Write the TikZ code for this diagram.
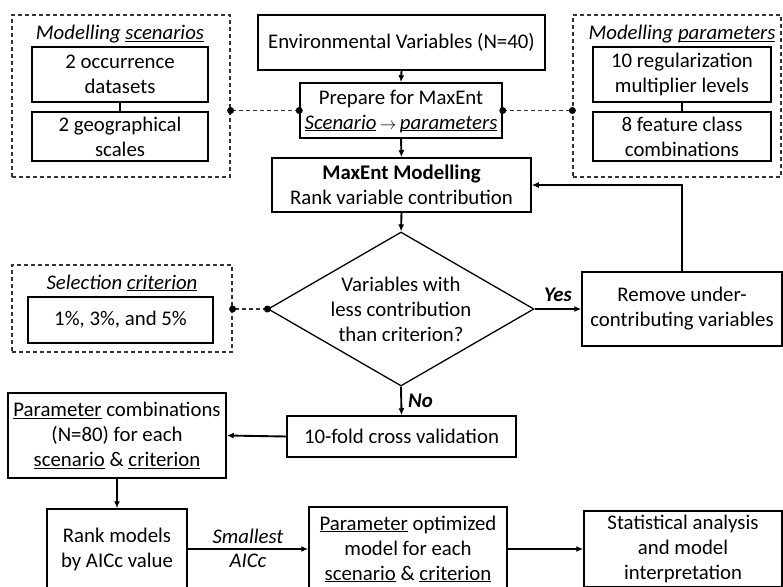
\documentclass[tikz,border=0pt]{standalone}
\usepackage{fontspec}
\setmainfont{Carlito}
\newcommand\myul[1]{\underline{\smash{#1}\vphantom{\ }}}
\usetikzlibrary{shapes.geometric,arrows.meta}
\begin{document}
\begin{tikzpicture}[x=1pt,y=-1pt,
  txt/.style={font=\fontsize{20.8}{25}\selectfont, align=center, inner sep=0pt},
  box/.style={txt, draw, line width=1.5pt},
  grp/.style={draw=black!80, dash pattern=on 4pt off 3pt, line width=1.2pt, inner sep=0pt},
  arr/.style={-{Latex[length=7pt,width=6pt]}, line width=1.9pt},
  dcon/.style={draw=black!80, dash pattern=on 4pt off 3pt, line width=1.2pt},
  solidcon/.style={line width=2pt}]
\useasboundingbox (0,0) rectangle (783,586);

% group boxes
\node[grp, minimum width=218pt, minimum height=162pt] (scen) at (121,96) {};
\node[txt] (scent) at (120,34) {\textit{Modelling \myul{scenarios}}};
\node[box, minimum width=176pt, minimum height=55pt] (occ) at (120,74.5) {2 occurrence\\datasets};
\node[box, minimum width=176pt, minimum height=49pt] (geo) at (120,136.5) {2 geographical\\scales};

\node[grp, minimum width=208pt, minimum height=162pt] (par) at (677,96) {};
\node[txt] (part) at (682,34) {\textit{Modelling \myul{parameters}}};
\node[box, minimum width=178pt, minimum height=55pt] (reg) at (682,74.5) {10 regularization\\multiplier levels};
\node[box, minimum width=178pt, minimum height=49pt] (feat) at (682,136.5) {8 feature class\\combinations};

\node[grp, minimum width=220pt, minimum height=87pt] (sel) at (122,308.5) {};
\node[txt] (selt) at (122,283) {\textit{Selection \myul{criterion}}};
\node[box, minimum width=185pt, minimum height=46pt] (pct) at (120.5,320) {1\%, 3\%, and 5\%};

% main flow
\node[box, minimum width=287pt, minimum height=55pt] (env) at (401.5,42.5) {Environmental Variables (N=40)};
\node[box, minimum width=202pt, minimum height=55pt] (prep) at (401,110.5) {Prepare for MaxEnt\\\textit{\myul{Scenario}\,\scalebox{0.8}{$\rightarrow$}\,\myul{parameters}}};
\node[box, minimum width=259pt, minimum height=54pt] (maxent) at (401.5,185) {\textbf{MaxEnt Modelling}\\Rank variable contribution};
\node[diamond, draw, line width=1.3pt, inner sep=0pt, minimum width=266pt, minimum height=154pt] (dec) at (401,309) {};
\node[txt] (dect) at (401,309) {Variables with\\less contribution\\than criterion?};
\node[box, minimum width=200pt, minimum height=74pt] (rem) at (682,309) {Remove under-\\contributing variables};
\node[box, minimum width=229pt, minimum height=41pt] (ten) at (401.5,436.5) {10-fold cross validation};
\node[box, minimum width=218pt, minimum height=85pt] (param) at (117,435.5) {\myul{Parameter} combinations\\(N=80) for each\\\myul{scenario} \& \myul{criterion}};
\node[box, minimum width=140pt, minimum height=80pt] (rank) at (117,549) {Rank models\\by AICc value};
\node[box, minimum width=198pt, minimum height=84pt] (opt) at (408,549) {\myul{Parameter} optimized\\model for each\\\myul{scenario} \& \myul{criterion}};
\node[box, minimum width=198pt, minimum height=76pt] (stats) at (683,549) {Statistical analysis\\and model\\interpretation};

% solid connectors inside groups
\draw[solidcon] (occ.south) -- (geo.north);
\draw[solidcon] (reg.south) -- (feat.north);

% dashed connectors with dots
\draw[dcon] (prep.west) -- (prep.west -| scen.east);
\fill (prep.west) circle (3.5pt);
\fill (prep.west -| scen.east) circle (3.5pt);
\draw[dcon] (prep.east) -- (prep.east -| par.west);
\fill (prep.east) circle (3.5pt);
\fill (prep.east -| par.west) circle (3.5pt);
\draw[dcon] (dec.west) -- (dec.west -| sel.east);
\fill (dec.west) circle (3.5pt);
\fill (dec.west -| sel.east) circle (3.5pt);

% arrows
\draw[arr] (env.south) -- (prep.north);
\draw[arr] (prep.south) -- (maxent.north);
\draw[arr] (maxent.south) -- (dec.north);
\draw[arr] (dec.east) -- node[txt, above=6pt, font=\fontsize{20.8}{25}\selectfont\bfseries\itshape] (yes) {Yes} (rem.west);
\draw[arr] (rem.north) |- (maxent.east);
\draw[arr] (dec.south) -- node[txt, right=6pt, font=\fontsize{20.8}{25}\selectfont\bfseries\itshape] (no) {No} (ten.north);
\draw[arr] (ten.west) -- (param.east);
\draw[arr] (param.south) -- (rank.north);
\draw[arr] (rank.east) -- node[txt, above=4pt, font=\fontsize{20.8}{25}\selectfont\itshape] (sm) {Smallest}
  node[txt, below=4pt, font=\fontsize{20.8}{25}\selectfont\itshape] (aicc) {AICc} (opt.west);
\draw[arr] (opt.east) -- (stats.west);
\end{tikzpicture}
\end{document}
